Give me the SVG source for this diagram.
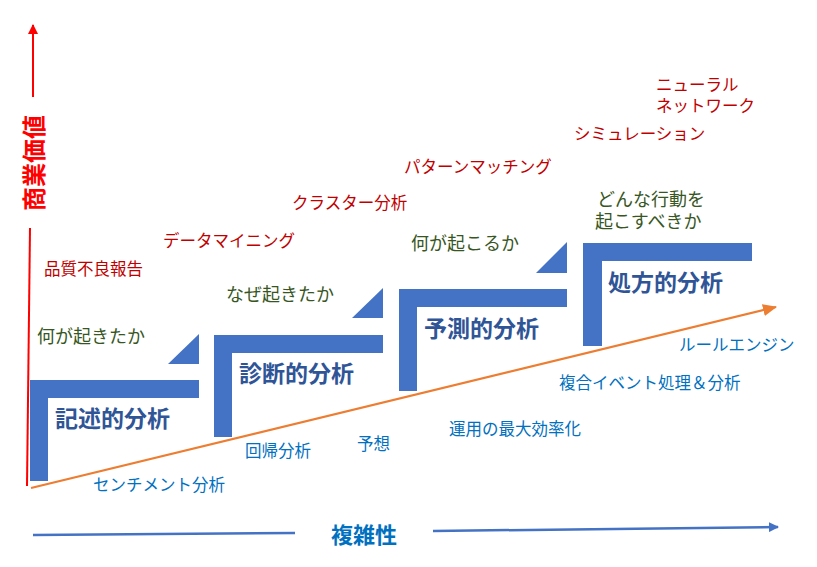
<svg xmlns="http://www.w3.org/2000/svg" width="817" height="567" viewBox="0 0 817 567">
<style>
text{font-family:"Noto Sans CJK JP","Noto Sans CJK SC",sans-serif;dominant-baseline:central}
.step{fill:#4472C4}
.lbl{font-size:23px;font-weight:bold;fill:#2F5597}
.q{font-size:18px;fill:#375623}
.r{font-size:16.5px;fill:#C00000}
.b{font-size:16.5px;fill:#0070C0}
</style>
<defs>
<marker id="ar" markerWidth="10" markerHeight="10" refX="9" refY="5" orient="auto" markerUnits="userSpaceOnUse"><path d="M0,0 L10,5 L0,10 z" fill="#FF0000"/></marker>
<marker id="ab" markerWidth="10" markerHeight="10" refX="9" refY="5" orient="auto" markerUnits="userSpaceOnUse"><path d="M0,0 L10,5 L0,10 z" fill="#4472C4"/></marker>
<marker id="ao" markerWidth="14" markerHeight="12" refX="13" refY="6" orient="auto" markerUnits="userSpaceOnUse"><path d="M0,0 L14,6 L0,12 z" fill="#ED7D31"/></marker>
</defs>
<g id="connectors">
<line x1="33" y1="97" x2="33" y2="25" stroke="#FF0000" stroke-width="2" marker-end="url(#ar)"/>
<line x1="30" y1="228" x2="27" y2="486" stroke="#FF0000" stroke-width="2"/>
<line x1="33" y1="535" x2="295" y2="533" stroke="#4472C4" stroke-width="2.5"/>
<line x1="433" y1="531" x2="778" y2="527" stroke="#4472C4" stroke-width="2.5" marker-end="url(#ab)"/>
<line x1="31" y1="488" x2="776" y2="307" stroke="#ED7D31" stroke-width="2.2" marker-end="url(#ao)"/>
</g>
<g id="axis-y"><text x="32" y="163" transform="rotate(-90 32 163)" text-anchor="middle" font-size="24" font-weight="bold" fill="#FF0000">商業価値</text></g>
<g id="axis-x"><text x="364" y="533" text-anchor="middle" font-size="22" font-weight="bold" fill="#0070C0">複雑性</text></g>
<g id="step1">
<path class="step" d="M30,380 H199 V398 H48 V481 H30 z"/>
<path class="step" d="M168,364 H199 V334 z"/>
<text class="lbl" x="55" y="417">記述的分析</text>
</g>
<g id="step2">
<path class="step" d="M214,335 H383 V353 H232 V437 H214 z"/>
<path class="step" d="M352,318 H383 V288 z"/>
<text class="lbl" x="239" y="372">診断的分析</text>
</g>
<g id="step3">
<path class="step" d="M399,289 H567 V307 H417 V391 H399 z"/>
<path class="step" d="M536,273 H567 V242 z"/>
<text class="lbl" x="424" y="327">予測的分析</text>
</g>
<g id="step4">
<path class="step" d="M583,243 H752 V261 H602 V346 H583 z"/>
<text class="lbl" x="608" y="281">処方的分析</text>
</g>
<g id="questions">
<text class="q" x="37" y="335">何が起きたか</text>
<text class="q" x="226" y="293">なぜ起きたか</text>
<text class="q" x="411" y="242">何が起こるか</text>
<text class="q"><tspan x="597" y="198">どんな行動を</tspan><tspan x="595" y="220">起こすべきか</tspan></text>
</g>
<g id="techniques-red">
<text class="r" x="44" y="268">品質不良報告</text>
<text class="r" x="163" y="240">データマイニング</text>
<text class="r" x="292" y="202">クラスター分析</text>
<text class="r" x="404" y="166">パターンマッチング</text>
<text class="r" x="574" y="133">シミュレーション</text>
<text class="r"><tspan x="656" y="84">ニューラル</tspan><tspan x="656" y="105">ネットワーク</tspan></text>
</g>
<g id="techniques-blue">
<text class="b" x="93" y="484">センチメント分析</text>
<text class="b" x="245" y="450">回帰分析</text>
<text class="b" x="357" y="443">予想</text>
<text class="b" x="449" y="428">運用の最大効率化</text>
<text class="b" x="559" y="382">複合イベント処理＆分析</text>
<text class="b" x="679" y="344">ルールエンジン</text>
</g>
</svg>
